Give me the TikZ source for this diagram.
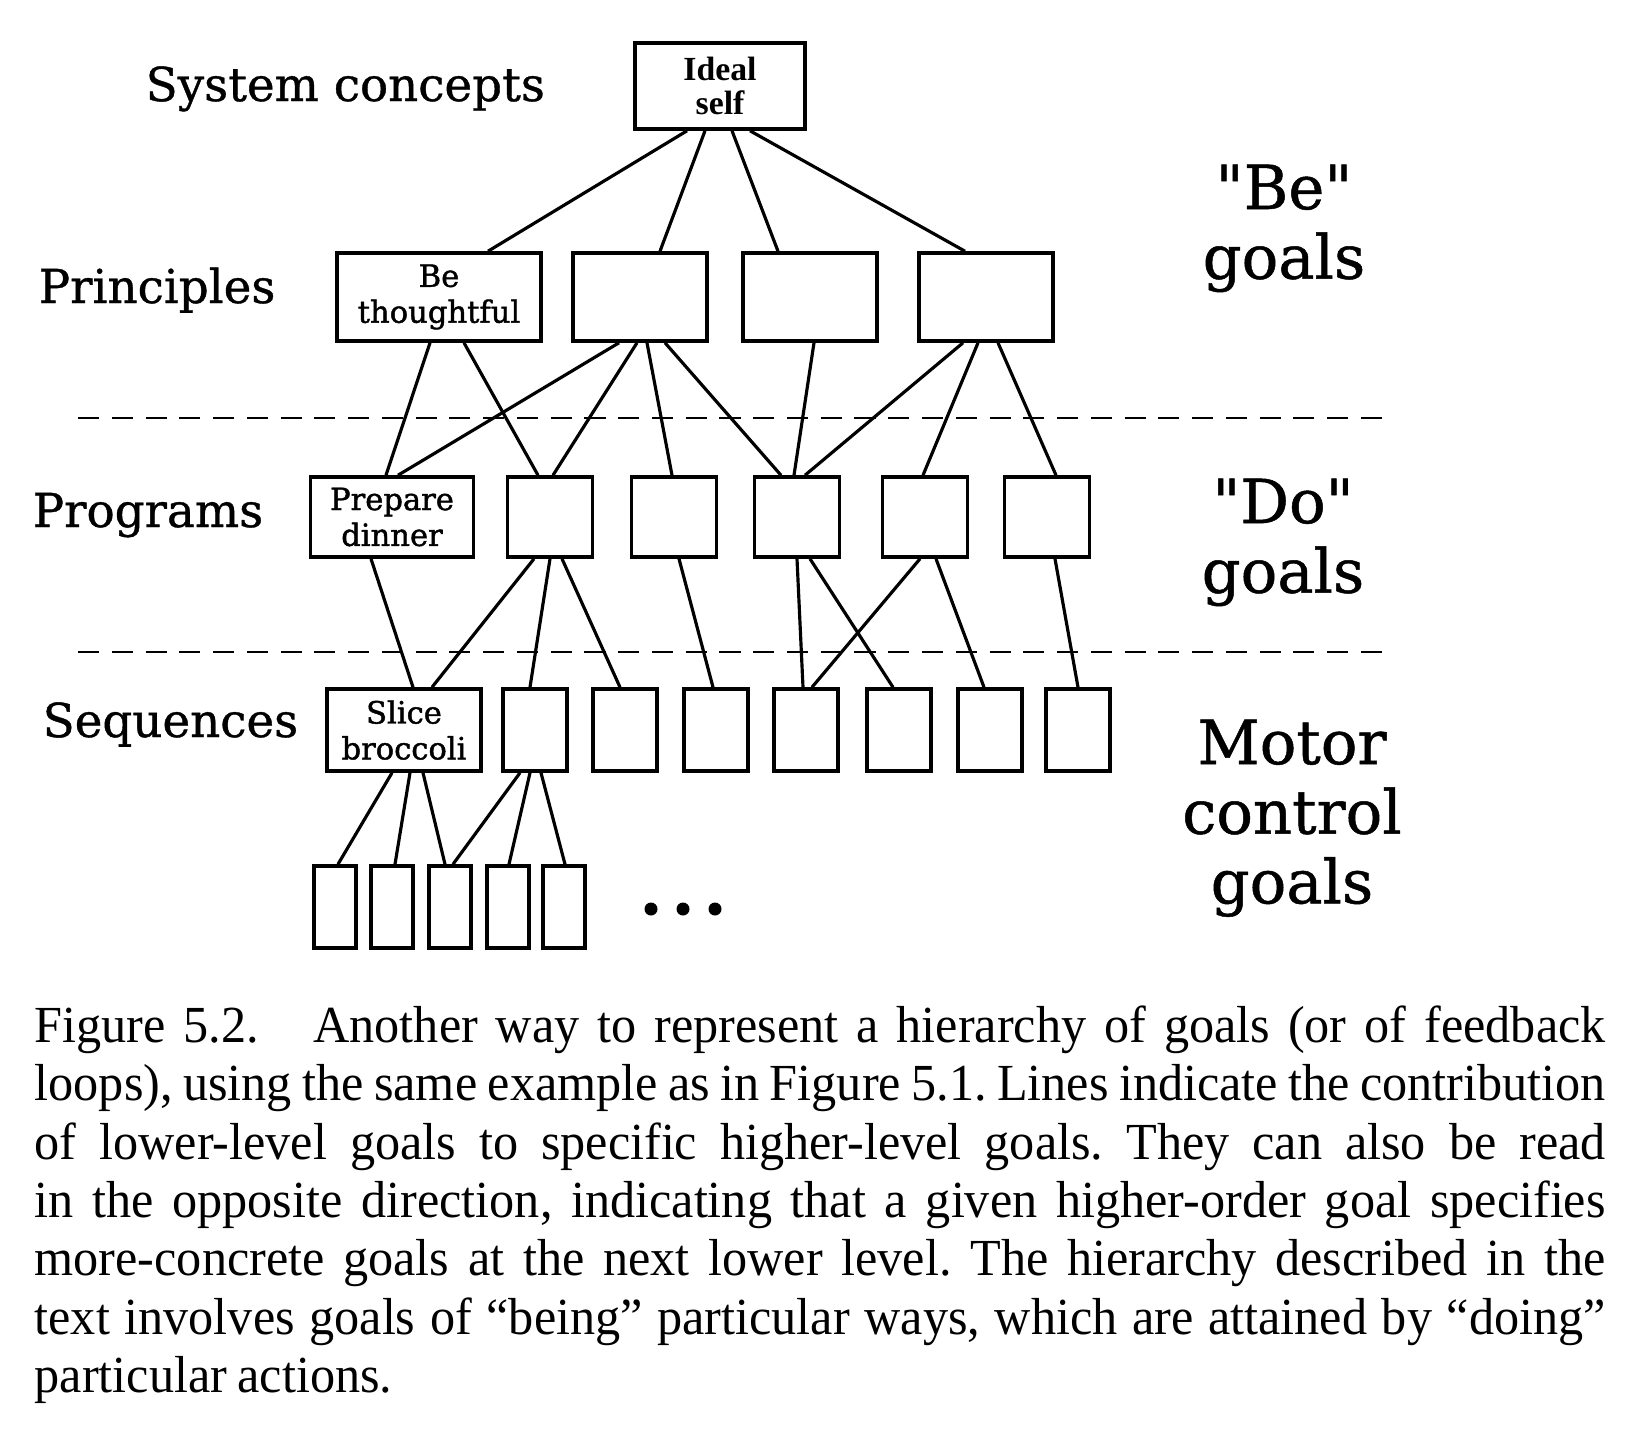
\documentclass[tikz,border=0pt]{standalone}
\usepackage{fontspec}
\setmainfont{Liberation Serif}
\newfontfamily\capfont{Liberation Serif}[FakeStretch=0.965]
\newfontfamily\levelfont{DejaVu Serif}[FakeBold=0.8]
\newfontfamily\goalfont{DejaVu Serif}[FakeBold=1.4]
\newcommand{\leveltext}{\levelfont\fontsize{13.3}{16}\selectfont}
\newcommand{\kindtext}{\levelfont\fontsize{17.3}{19.8}\selectfont}
\newcommand{\boxtext}{\goalfont\fontsize{8.7}{10.2}\selectfont}
\newcommand{\idealtext}{\fontsize{9.6}{9.8}\selectfont\bfseries}
\newcommand{\captiontext}{\capfont\fontsize{14.8}{16.6}\selectfont\frenchspacing\spaceskip=0.2em plus 0.5em minus 0.02em}
\newcommand{\capline}[1]{\makebox[15.7cm][s]{#1}}
\tikzset{
  goal/.style={draw, line width=1pt, inner sep=0pt, align=center, font=\boxtext},
  level/.style={anchor=base west, inner sep=0pt, font=\leveltext},
  kind/.style={anchor=north, inner sep=0pt, align=center, font=\kindtext},
  link/.style={line width=0.9pt},
  divider/.style={line width=0.6pt, dash pattern=on 6pt off 3.6pt}
}
\begin{document}
\begin{tikzpicture}[x=0.01cm, y=-0.01cm]
\useasboundingbox (0,0) rectangle (1642,1432);
% level names
\node[level] (sys) at (145,101) {System concepts};
\node[level] (prin) at (38,303) {Principles};
\node[level] (prog) at (32,527) {Programs};
\node[level] (seq) at (42,737) {Sequences};
% goals
\node[goal, minimum width=1.70cm, minimum height=0.86cm, font=\idealtext] (ideal) at (720,86) {Ideal\\self};
\node[goal, minimum width=2.04cm, minimum height=0.88cm] (pr1) at (439,297) {Be\\thoughtful};
\foreach \n/\x in {2/640,3/810,4/986}
  \node[goal, minimum width=1.34cm, minimum height=0.88cm] (pr\n) at (\x,297) {};
\node[goal, minimum width=1.63cm, minimum height=0.80cm] (pg1) at (392,517) {Prepare\\dinner};
\foreach \n/\x in {2/550,3/674,4/797,5/925,6/1047}
  \node[goal, minimum width=0.85cm, minimum height=0.80cm] (pg\n) at (\x,517) {};
\node[goal, minimum width=1.54cm, minimum height=0.82cm] (sq1) at (404,730) {Slice\\broccoli};
\foreach \n/\x in {2/535,3/625,4/716,5/806,6/899,7/990,8/1078}
  \node[goal, minimum width=0.64cm, minimum height=0.82cm] (sq\n) at (\x,730) {};
\foreach \n/\x in {1/335,2/392,3/450,4/508,5/564}
  \node[goal, minimum width=0.42cm, minimum height=0.82cm] (bt\n) at (\x,907) {};
\foreach \x in {651,683,715} \fill (\x,909) circle[radius=0.065cm];
% dashed borders between the kinds of goals
\draw[divider] (78,418) -- (1382,418);
\draw[divider] (78,652) -- (1382,652);
% contributions
\foreach \a/\ax/\b/\bx in {ideal/687/pr1/488, ideal/705/pr2/660, ideal/732/pr3/778, ideal/750/pr4/965,
    pr1/430/pg1/386, pr1/464/pg2/538, pr2/619/pg1/398, pr2/637/pg2/553, pr2/647/pg3/672,
    pr2/665/pg4/781, pr3/814/pg4/794, pr4/963/pg4/805, pr4/978/pg5/923, pr4/998/pg6/1056,
    pg1/371/sq1/413, pg2/534/sq1/432, pg2/550/sq2/530, pg2/562/sq3/620, pg3/679/sq4/713,
    pg4/797/sq5/803, pg4/810/sq6/893, pg5/920/sq5/812, pg5/936/sq7/984, pg6/1055/sq8/1078,
    sq1/392/bt1/338, sq1/410/bt2/395, sq1/423/bt3/445, sq2/520/bt3/453, sq2/530/bt4/509, sq2/541/bt5/565}
  \draw[link] (\a.south -| \ax,0) -- (\b.north -| \bx,0);
% kinds of goals
\node[kind] (be) at (1284,164) {"Be"\\goals};
\node[kind] (do) at (1283,478) {"Do"\\goals};
\node[kind] (motor) at (1292,719) {Motor\\control\\goals};
% caption
\node[anchor=north west, inner sep=0pt, align=left, font=\captiontext] (caption) at (34,1005) {%
\capline{Figure 5.2.\hspace{0.7em} Another way to represent a hierarchy of goals (or of feedback}\\
\capline{loops), using the same example as in Figure 5.1. Lines indicate the contribution}\\
\capline{of lower-level goals to specific higher-level goals. They can also be read}\\
\capline{in the opposite direction, indicating that a given higher-order goal specifies}\\
\capline{more-concrete goals at the next lower level. The hierarchy described in the}\\
\capline{text involves goals of “being” particular ways, which are attained by “doing”}\\
particular actions.};
\end{tikzpicture}
\end{document}
